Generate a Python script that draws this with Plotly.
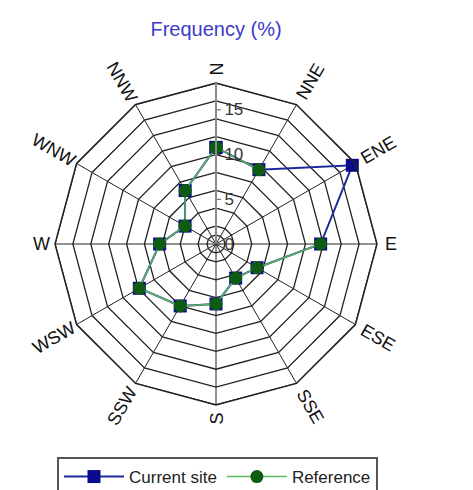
import math
import plotly.graph_objects as go

# wind directions, clockwise from north
directions = ['N', 'NNE', 'ENE', 'E', 'ESE', 'SSE', 'S', 'SSW', 'WSW', 'W', 'WNW', 'NNW']

# frequency (%) per direction
current_site = [10.8, 9.6, 17.6, 11.7, 5.3, 4.4, 6.7, 8.0, 9.9, 6.3, 4.0, 6.9]
reference = [10.8, 9.6, None, 11.7, 5.3, 4.4, 6.7, 8.0, 9.9, 6.3, 4.0, 6.9]

ring_values = [1, 2, 4, 6, 8, 10, 12, 14, 16, 18]
radial_ticks = [0, 5, 10, 15]
r_max = 18

W, H = 473, 490
L, R, T, B = 47, 104, 75, 93
PW = W - L - R
PH = H - T - B

FONT = 'Liberation Sans, Arial, sans-serif'


def closed(vals):
    return list(vals) + [vals[0]]


fig = go.Figure()

# polygon grid rings
for v in ring_values:
    fig.add_trace(go.Scatterpolar(
        r=[v] * (len(directions) + 1), theta=closed(directions),
        mode='lines', line=dict(color='#222222', width=1.3),
        hoverinfo='skip', showlegend=False,
    ))

fig.add_trace(go.Scatterpolar(
    r=closed(current_site), theta=closed(directions), name='Current site',
    mode='lines+markers',
    line=dict(color='#1c2a9c', width=2),
    marker=dict(symbol='square', size=13, color='#0a0a8c'),
))
fig.add_trace(go.Scatterpolar(
    r=closed(reference), theta=closed(directions), name='Reference',
    mode='lines+markers',
    line=dict(color='#5cb85c', width=1.5),
    marker=dict(symbol='circle', size=13, color='#0d5c12'),
))

# direction labels, rotated along the spokes
annotations = []
for i, d in enumerate(directions):
    theta = math.radians(90 - 30 * i)
    deg = 90 - 30 * i
    if deg <= -90:
        deg += 360
    if -90 <= deg <= 90:
        angle = -deg
    else:
        angle = 180 - deg
    rad = 168 + len(d) * 6.5
    annotations.append(dict(
        x=0.5 + rad * math.cos(theta) / PW, y=0.5 + rad * math.sin(theta) / PH,
        xref='paper', yref='paper', text=d, showarrow=False,
        textangle=angle, xanchor='center', yanchor='middle',
        font=dict(size=18, color='#111111', family=FONT),
    ))

fig.update_layout(
    width=W, height=H,
    margin=dict(l=L, r=R, t=T, b=B, autoexpand=False),
    paper_bgcolor='white',
    font=dict(family=FONT, color='#111111', size=18),
    title=dict(text='Frequency (%)', x=0.5, xanchor='center', xref='paper',
               y=1 - 21 / H, yanchor='middle',
               font=dict(size=20, color='#3b3bc8', family=FONT)),
    polar=dict(
        domain=dict(x=[0, 1], y=[0, 1]),
        bgcolor='white',
        gridshape='linear',
        radialaxis=dict(range=[0, r_max], tickvals=radial_ticks, angle=90, tickangle=90,
                        showgrid=False, showline=True, linecolor='#8a8a8a', linewidth=2,
                        ticks='outside', ticklen=4, tickcolor='#555555',
                        tickfont=dict(size=17, color='#333333')),
        angularaxis=dict(categoryorder='array', categoryarray=directions,
                         rotation=90, direction='clockwise',
                         showticklabels=False, ticks='',
                         showline=True, linecolor='#222222', linewidth=1.5,
                         gridcolor='#222222', gridwidth=1.3),
    ),
    showlegend=True,
    legend=dict(orientation='h', x=(49 - L) / PW, xanchor='left', y=(H - B - 449) / PH,
                yanchor='top',
                bgcolor='white', bordercolor='#555555', borderwidth=2,
                itemwidth=60, font=dict(size=17, color='#222222')),
    annotations=annotations,
)

fig.write_html('out.html')
